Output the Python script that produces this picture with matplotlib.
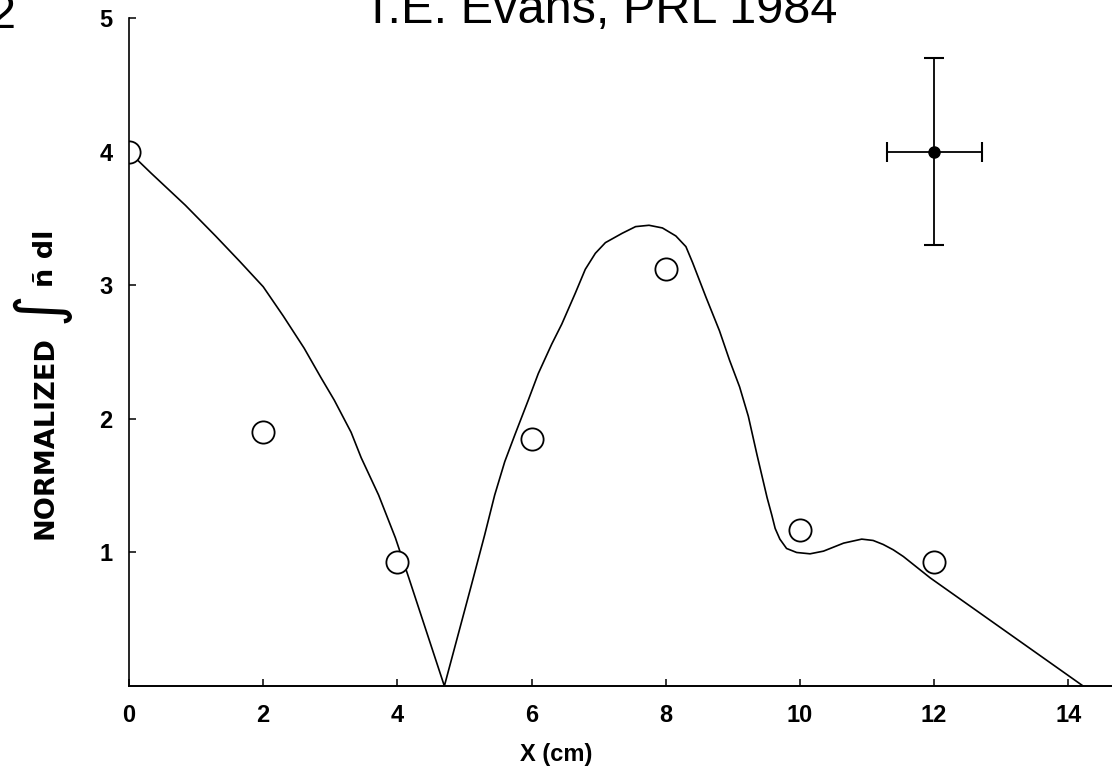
import matplotlib.pyplot as plt

# measured points (open circles)
x_pts = [0, 2, 4, 6, 8, 10, 12]
y_pts = [4.0, 1.9, 0.93, 1.85, 3.12, 1.17, 0.93]

# hand drawn fit curve
x_fit = [0.0, 0.33, 0.84, 1.29, 1.65, 2.0, 2.30, 2.61, 2.86, 3.06, 3.31, 3.46, 3.72, 3.97, 4.17, 4.70,
         5.1, 5.3, 5.45, 5.6, 5.75, 5.95, 6.1, 6.3, 6.45, 6.65, 6.8, 6.95, 7.1, 7.35, 7.55, 7.75,
         7.95, 8.15, 8.3, 8.4, 8.6, 8.8, 8.95, 9.1, 9.23, 9.36, 9.51, 9.58, 9.63, 9.70, 9.80,
         9.95, 10.15, 10.35, 10.65, 10.92, 11.09, 11.24, 11.39, 11.54, 11.94, 14.22]
y_fit = [4.0, 3.84, 3.60, 3.37, 3.18, 2.99, 2.77, 2.53, 2.31, 2.14, 1.90, 1.71, 1.43, 1.11, 0.81, 0.0,
         0.75, 1.13, 1.43, 1.68, 1.88, 2.14, 2.34, 2.56, 2.71, 2.94, 3.12, 3.24, 3.32, 3.39, 3.44, 3.45,
         3.43, 3.37, 3.29, 3.17, 2.91, 2.66, 2.44, 2.24, 2.02, 1.73, 1.41, 1.28, 1.18, 1.10, 1.03,
         1.00, 0.99, 1.01, 1.07, 1.10, 1.09, 1.06, 1.02, 0.97, 0.81, 0.0]

# single error bar example
err_x, err_y = [12], [4.0]
err_dx, err_dy = [0.71], [0.7]

xticks = [0, 2, 4, 6, 8, 10, 12, 14]
yticks = [1, 2, 3, 4, 5]

plt.rcParams['font.family'] = ['Liberation Sans', 'DejaVu Sans']

W, H = 1112, 781
fig = plt.figure(figsize=(W / 100, H / 100), dpi=100)
ax = fig.add_axes([0.116, 0.1216, 0.884, 0.855])

ax.plot(x_fit, y_fit, color='black', lw=1.2)
ax.plot(x_pts, y_pts, 'o', mfc='white', mec='black', ms=16, mew=1.3)
ax.errorbar(err_x, err_y, xerr=err_dx, yerr=err_dy, fmt='o', color='black',
            ms=8, lw=1.3, capsize=7, capthick=1.5)

ax.set_xlim(0, 14.65)
ax.set_ylim(0, 5)
ax.set_xticks(xticks)
ax.set_yticks(yticks)
ax.spines['top'].set_visible(False)
ax.spines['right'].set_visible(False)
ax.spines['left'].set_linewidth(1.2)
ax.spines['bottom'].set_linewidth(1.4)
ax.tick_params(axis='both', direction='in', length=5, width=1.1, labelsize=17)
ax.tick_params(axis='x', pad=13)
ax.tick_params(axis='y', pad=12)
for lab in ax.get_xticklabels() + ax.get_yticklabels():
    lab.set_fontweight('bold')

ax.set_xlabel('X (cm)', fontsize=17, fontweight='bold')
ax.xaxis.set_label_coords(0.435, -0.085)

# y label built from pieces, the integral sign is much bigger than the letters
ylab = dict(rotation=90, rotation_mode='anchor', fontweight='bold', family=['DejaVu Sans'])
fig.text(53 / W, 1 - 438 / H, 'NORMALIZED', fontsize=19.5, ha='center', va='baseline', **ylab)
fig.text(53 / W, 1 - 258 / H, 'ñ dl', fontsize=19.5, ha='center', va='baseline', **ylab)
fig.text(40 / W, 1 - 307 / H, '∫', fontsize=44, ha='center', va='center',
         rotation=90, rotation_mode='anchor', family=['DejaVu Sans'])

fig.text(0.54, 1 - 23 / H, 'T.E. Evans, PRL 1984', fontsize=35, ha='center', va='baseline')
fig.text(16 / W, 1 - 28 / H, '2', fontsize=35, ha='right', va='baseline')

fig.savefig('out.png', dpi=100)
